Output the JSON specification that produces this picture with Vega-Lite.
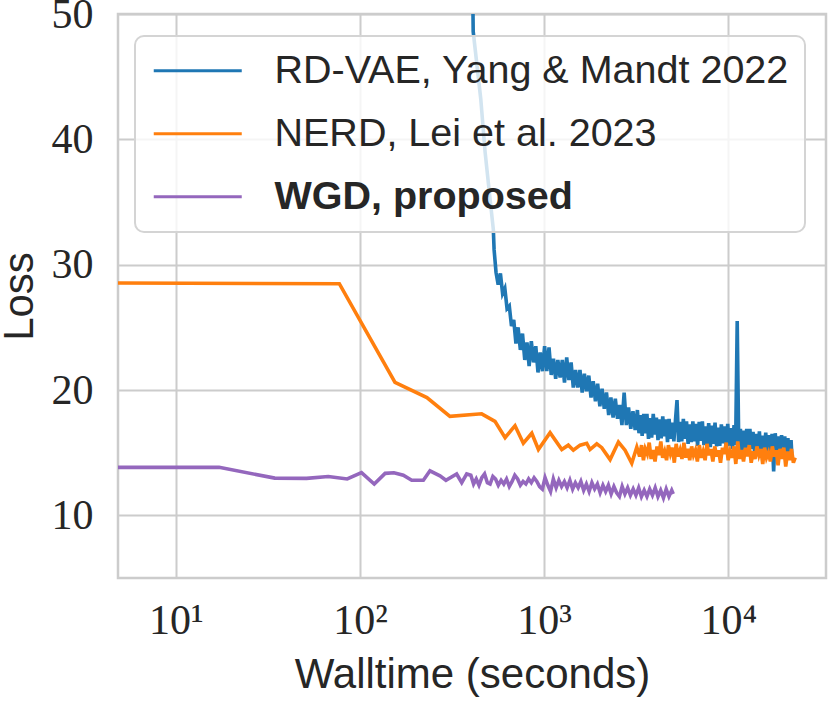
{
  "$schema": "https://vega.github.io/schema/vega-lite/v6.json",
  "width": 708,
  "height": 564,
  "autosize": "none",
  "padding": {"left": 118, "top": 14, "right": 4, "bottom": 123},
  "background": "white",
  "datasets": {
    "rdvae": [
      {"time": 400, "loss": 56}, {"time": 411, "loss": 50}, {"time": 412, "loss": 48.6}, {"time": 453, "loss": 43.2},
      {"time": 478, "loss": 39.0}, {"time": 509, "loss": 35.2}, {"time": 530, "loss": 32.8}, {"time": 535, "loss": 31.2},
      {"time": 548, "loss": 29.4}, {"time": 563, "loss": 28.4}, {"time": 579, "loss": 29.3}, {"time": 595, "loss": 27.7},
      {"time": 612, "loss": 28.1}, {"time": 629, "loss": 26.5}, {"time": 647, "loss": 26.7}, {"time": 665, "loss": 25.1},
      {"time": 684, "loss": 25.6}, {"time": 703, "loss": 23.7}, {"time": 722, "loss": 25.0}, {"time": 743, "loss": 23.2},
      {"time": 763, "loss": 24.5}, {"time": 785, "loss": 22.4}, {"time": 807, "loss": 23.8}, {"time": 829, "loss": 21.9},
      {"time": 852, "loss": 23.9}, {"time": 876, "loss": 22.2}, {"time": 901, "loss": 23.5}, {"time": 926, "loss": 21.4},
      {"time": 952, "loss": 23.0}, {"time": 979, "loss": 21.5}, {"time": 1006, "loss": 23.5}, {"time": 1034, "loss": 21.5},
      {"time": 1063, "loss": 23.4}, {"time": 1093, "loss": 21.2}, {"time": 1124, "loss": 22.5}, {"time": 1155, "loss": 20.9},
      {"time": 1187, "loss": 22.4}, {"time": 1221, "loss": 21.0}, {"time": 1255, "loss": 22.4}, {"time": 1290, "loss": 20.6},
      {"time": 1326, "loss": 22.6}, {"time": 1363, "loss": 20.8}, {"time": 1401, "loss": 22.2}, {"time": 1440, "loss": 20.2},
      {"time": 1481, "loss": 21.6}, {"time": 1522, "loss": 20.2}, {"time": 1565, "loss": 21.6}, {"time": 1609, "loss": 19.8},
      {"time": 1654, "loss": 21.3}, {"time": 1700, "loss": 19.9}, {"time": 1748, "loss": 21.15}, {"time": 1797, "loss": 19.4},
      {"time": 1847, "loss": 20.7}, {"time": 1899, "loss": 19.1}, {"time": 1952, "loss": 20.5}, {"time": 2007, "loss": 18.7},
      {"time": 2063, "loss": 20.1}, {"time": 2121, "loss": 18.5}, {"time": 2180, "loss": 19.8}, {"time": 2241, "loss": 18.0},
      {"time": 2304, "loss": 19.4}, {"time": 2368, "loss": 17.8}, {"time": 2435, "loss": 19.3}, {"time": 2503, "loss": 17.7},
      {"time": 2573, "loss": 18.8}, {"time": 2645, "loss": 17.2}, {"time": 2719, "loss": 19.8}, {"time": 2795, "loss": 17.2},
      {"time": 2873, "loss": 18.6}, {"time": 2954, "loss": 16.9}, {"time": 3036, "loss": 18.3}, {"time": 3121, "loss": 16.8},
      {"time": 3209, "loss": 18.4}, {"time": 3273, "loss": 16.55}, {"time": 3339, "loss": 18.0}, {"time": 3405, "loss": 16.35},
      {"time": 3474, "loss": 18.1}, {"time": 3543, "loss": 16.55}, {"time": 3614, "loss": 18.1}, {"time": 3686, "loss": 16.1},
      {"time": 3760, "loss": 17.75}, {"time": 3835, "loss": 16.2}, {"time": 3912, "loss": 18.1}, {"time": 3990, "loss": 16.45},
      {"time": 4070, "loss": 17.8}, {"time": 4151, "loss": 16.0}, {"time": 4234, "loss": 17.65}, {"time": 4319, "loss": 16.15},
      {"time": 4405, "loss": 17.9}, {"time": 4494, "loss": 16.3}, {"time": 4584, "loss": 17.65}, {"time": 4675, "loss": 15.85},
      {"time": 4769, "loss": 17.7}, {"time": 4864, "loss": 16.1}, {"time": 4961, "loss": 17.4}, {"time": 5061, "loss": 15.9},
      {"time": 5162, "loss": 17.55}, {"time": 5265, "loss": 19.2}, {"time": 5370, "loss": 15.85}, {"time": 5478, "loss": 17.45},
      {"time": 5587, "loss": 15.9}, {"time": 5699, "loss": 17.7}, {"time": 5813, "loss": 16.1}, {"time": 5929, "loss": 17.5},
      {"time": 6048, "loss": 15.7}, {"time": 6169, "loss": 17.25}, {"time": 6292, "loss": 15.85}, {"time": 6418, "loss": 17.5},
      {"time": 6546, "loss": 15.9}, {"time": 6677, "loss": 17.3}, {"time": 6811, "loss": 15.55}, {"time": 6947, "loss": 17.45},
      {"time": 7086, "loss": 15.95}, {"time": 7228, "loss": 17.5}, {"time": 7372, "loss": 15.6}, {"time": 7520, "loss": 17.1},
      {"time": 7670, "loss": 15.7}, {"time": 7823, "loss": 17.35}, {"time": 7980, "loss": 15.45}, {"time": 8139, "loss": 17.15},
      {"time": 8302, "loss": 15.7}, {"time": 8468, "loss": 17.4}, {"time": 8637, "loss": 15.5}, {"time": 8810, "loss": 17.0},
      {"time": 8986, "loss": 15.55}, {"time": 9166, "loss": 17.25}, {"time": 9350, "loss": 15.75}, {"time": 9537, "loss": 17.1},
      {"time": 9727, "loss": 15.3}, {"time": 9922, "loss": 17.3}, {"time": 10120, "loss": 15.55}, {"time": 10323, "loss": 16.95},
      {"time": 10529, "loss": 15.3}, {"time": 10740, "loss": 17.2}, {"time": 10954, "loss": 15.6}, {"time": 11173, "loss": 25.5},
      {"time": 11397, "loss": 15.35}, {"time": 11625, "loss": 16.9}, {"time": 11857, "loss": 15.1}, {"time": 12094, "loss": 16.75},
      {"time": 12336, "loss": 15.3}, {"time": 12583, "loss": 16.9}, {"time": 12835, "loss": 15.15}, {"time": 13091, "loss": 16.9},
      {"time": 13353, "loss": 15.3}, {"time": 13620, "loss": 16.65}, {"time": 13893, "loss": 14.95}, {"time": 14171, "loss": 16.5},
      {"time": 14454, "loss": 15.0}, {"time": 14743, "loss": 16.7}, {"time": 15038, "loss": 14.75}, {"time": 15339, "loss": 16.35},
      {"time": 15646, "loss": 15.0}, {"time": 15959, "loss": 16.6}, {"time": 16278, "loss": 14.8}, {"time": 16603, "loss": 16.4},
      {"time": 16936, "loss": 14.9}, {"time": 17274, "loss": 16.5}, {"time": 17620, "loss": 13.5}, {"time": 17972, "loss": 16.55},
      {"time": 18332, "loss": 14.85}, {"time": 18698, "loss": 16.3}, {"time": 19072, "loss": 14.7}, {"time": 19454, "loss": 16.4},
      {"time": 19843, "loss": 14.85}, {"time": 20240, "loss": 16.3}, {"time": 20645, "loss": 14.6}, {"time": 21057, "loss": 16.15},
      {"time": 21479, "loss": 14.8}, {"time": 21908, "loss": 16.0}, {"time": 22100, "loss": 14.9}
    ],
    "nerd": [
      {"time": 4.86, "loss": 28.54}, {"time": 77.3, "loss": 28.48}, {"time": 155, "loss": 20.6}, {"time": 231, "loss": 19.4},
      {"time": 308, "loss": 17.9}, {"time": 458, "loss": 18.1}, {"time": 541, "loss": 17.5}, {"time": 614, "loss": 16.2},
      {"time": 695, "loss": 17.15}, {"time": 771, "loss": 15.75}, {"time": 857, "loss": 16.55}, {"time": 931, "loss": 15.25},
      {"time": 1077, "loss": 16.6}, {"time": 1247, "loss": 15.25}, {"time": 1353, "loss": 15.6}, {"time": 1441, "loss": 15.2},
      {"time": 1568, "loss": 15.6}, {"time": 1703, "loss": 15.75}, {"time": 1775, "loss": 15.25}, {"time": 1931, "loss": 15.7},
      {"time": 2056, "loss": 15.4}, {"time": 2281, "loss": 14.45}, {"time": 2531, "loss": 15.85}, {"time": 2750, "loss": 15.2},
      {"time": 2990, "loss": 14.15}, {"time": 3185, "loss": 15.45}, {"time": 3300, "loss": 14.7}, {"time": 3380, "loss": 15.6},
      {"time": 3460, "loss": 14.4}, {"time": 3540, "loss": 15.3}, {"time": 3630, "loss": 14.9}, {"time": 3720, "loss": 15.8},
      {"time": 3810, "loss": 14.5}, {"time": 3900, "loss": 15.2}, {"time": 4000, "loss": 14.3}, {"time": 4100, "loss": 15.5},
      {"time": 4200, "loss": 14.8}, {"time": 4300, "loss": 15.9}, {"time": 4400, "loss": 14.6}, {"time": 4510, "loss": 15.1},
      {"time": 4620, "loss": 14.4}, {"time": 4730, "loss": 15.6}, {"time": 4850, "loss": 14.9}, {"time": 4970, "loss": 15.4},
      {"time": 5090, "loss": 14.2}, {"time": 5210, "loss": 15.7}, {"time": 5340, "loss": 14.7}, {"time": 5470, "loss": 15.2},
      {"time": 5600, "loss": 14.5}, {"time": 5740, "loss": 15.8}, {"time": 5880, "loss": 14.6}, {"time": 6020, "loss": 15.3},
      {"time": 6170, "loss": 14.4}, {"time": 6320, "loss": 15.5}, {"time": 6470, "loss": 14.8}, {"time": 6630, "loss": 15.2},
      {"time": 6790, "loss": 14.3}, {"time": 6960, "loss": 15.6}, {"time": 7130, "loss": 14.6}, {"time": 7300, "loss": 15.1},
      {"time": 7480, "loss": 14.4}, {"time": 7660, "loss": 15.7}, {"time": 7850, "loss": 14.8}, {"time": 8040, "loss": 15.3},
      {"time": 8240, "loss": 14.3}, {"time": 8440, "loss": 15.5}, {"time": 8640, "loss": 14.7}, {"time": 8850, "loss": 15.2},
      {"time": 9070, "loss": 14.2}, {"time": 9290, "loss": 15.4}, {"time": 9510, "loss": 14.9}, {"time": 9740, "loss": 15.8},
      {"time": 9980, "loss": 14.4}, {"time": 10220, "loss": 15.1}, {"time": 10470, "loss": 14.6}, {"time": 10720, "loss": 15.5},
      {"time": 10980, "loss": 14.1}, {"time": 11250, "loss": 15.9}, {"time": 11520, "loss": 14.5}, {"time": 11800, "loss": 15.2},
      {"time": 12090, "loss": 14.3}, {"time": 12380, "loss": 15.4}, {"time": 12680, "loss": 14.7}, {"time": 12990, "loss": 15.6},
      {"time": 13310, "loss": 14.2}, {"time": 13630, "loss": 15.1}, {"time": 13960, "loss": 14.5}, {"time": 14300, "loss": 15.5},
      {"time": 14650, "loss": 14.8}, {"time": 15000, "loss": 15.3}, {"time": 15370, "loss": 14.1}, {"time": 15740, "loss": 15.4},
      {"time": 16120, "loss": 14.6}, {"time": 16510, "loss": 15.0}, {"time": 16910, "loss": 14.3}, {"time": 17330, "loss": 15.5},
      {"time": 17750, "loss": 14.7}, {"time": 18180, "loss": 15.2}, {"time": 18620, "loss": 14.0}, {"time": 19070, "loss": 15.3},
      {"time": 19530, "loss": 14.5}, {"time": 20010, "loss": 15.4}, {"time": 20490, "loss": 13.9}, {"time": 20990, "loss": 15.1},
      {"time": 21500, "loss": 14.4}, {"time": 22020, "loss": 15.3}, {"time": 22550, "loss": 14.2}, {"time": 23070, "loss": 14.6}
    ],
    "wgd": [
      {"time": 4.86, "loss": 13.83}, {"time": 17.2, "loss": 13.83}, {"time": 34.5, "loss": 12.97}, {"time": 51.3, "loss": 12.95},
      {"time": 67.3, "loss": 13.1}, {"time": 85.3, "loss": 12.9}, {"time": 102, "loss": 13.4}, {"time": 119.6, "loss": 12.5},
      {"time": 137, "loss": 13.35}, {"time": 153, "loss": 13.4}, {"time": 172, "loss": 13.2}, {"time": 191, "loss": 12.8},
      {"time": 221, "loss": 12.8}, {"time": 240, "loss": 13.55}, {"time": 272, "loss": 13.15}, {"time": 293, "loss": 12.8},
      {"time": 335, "loss": 13.3}, {"time": 357, "loss": 12.6}, {"time": 380, "loss": 13.3}, {"time": 400, "loss": 13.2},
      {"time": 414, "loss": 12.5}, {"time": 428, "loss": 12.9}, {"time": 443, "loss": 12.4}, {"time": 459, "loss": 13.0},
      {"time": 475, "loss": 13.3}, {"time": 492, "loss": 12.6}, {"time": 509, "loss": 12.5}, {"time": 527, "loss": 13.1},
      {"time": 545, "loss": 12.9}, {"time": 564, "loss": 12.4}, {"time": 584, "loss": 12.8}, {"time": 604, "loss": 12.5},
      {"time": 625, "loss": 12.9}, {"time": 647, "loss": 12.3}, {"time": 670, "loss": 12.7}, {"time": 693, "loss": 13.2},
      {"time": 718, "loss": 12.9}, {"time": 743, "loss": 12.4}, {"time": 769, "loss": 12.7}, {"time": 796, "loss": 12.5},
      {"time": 824, "loss": 12.9}, {"time": 852, "loss": 12.6}, {"time": 882, "loss": 13.0}, {"time": 913, "loss": 12.7},
      {"time": 945, "loss": 12.3}, {"time": 978, "loss": 12.1}, {"time": 1012, "loss": 13.0}, {"time": 1048, "loss": 12.4},
      {"time": 1084, "loss": 11.9}, {"time": 1122, "loss": 12.9}, {"time": 1162, "loss": 12.2}, {"time": 1202, "loss": 12.8},
      {"time": 1244, "loss": 12.3}, {"time": 1288, "loss": 12.7}, {"time": 1333, "loss": 12.2}, {"time": 1380, "loss": 12.8},
      {"time": 1428, "loss": 12.1}, {"time": 1478, "loss": 12.6}, {"time": 1530, "loss": 12.2}, {"time": 1583, "loss": 12.7},
      {"time": 1639, "loss": 12.0}, {"time": 1696, "loss": 12.5}, {"time": 1755, "loss": 11.9}, {"time": 1817, "loss": 12.6},
      {"time": 1880, "loss": 12.1}, {"time": 1946, "loss": 12.5}, {"time": 2014, "loss": 11.8}, {"time": 2085, "loss": 12.4},
      {"time": 2158, "loss": 11.9}, {"time": 2233, "loss": 12.4}, {"time": 2311, "loss": 11.7}, {"time": 2392, "loss": 12.3},
      {"time": 2476, "loss": 11.8}, {"time": 2563, "loss": 11.5}, {"time": 2652, "loss": 12.3}, {"time": 2745, "loss": 11.7},
      {"time": 2841, "loss": 12.2}, {"time": 2941, "loss": 11.6}, {"time": 3044, "loss": 12.1}, {"time": 3150, "loss": 11.6},
      {"time": 3260, "loss": 12.2}, {"time": 3374, "loss": 11.5}, {"time": 3493, "loss": 12.0}, {"time": 3615, "loss": 11.5},
      {"time": 3741, "loss": 12.1}, {"time": 3872, "loss": 11.6}, {"time": 4008, "loss": 12.2}, {"time": 4148, "loss": 11.5},
      {"time": 4293, "loss": 12.0}, {"time": 4444, "loss": 11.4}, {"time": 4599, "loss": 12.1}, {"time": 4760, "loss": 11.5},
      {"time": 4927, "loss": 12.0}, {"time": 5023, "loss": 11.7}
    ]
  },
  "encoding": {
    "x": {
      "field": "time",
      "type": "quantitative",
      "scale": {"type": "log", "domain": [4.86, 33900], "nice": false},
      "axis": {
        "title": "Walltime (seconds)",
        "values": [10, 100, 1000, 10000],
        "labelExpr": "datum.value == 10 ? '10¹' : datum.value == 100 ? '10²' : datum.value == 1000 ? '10³' : '10⁴'",
        "labelFont": "Liberation Serif",
        "labelFontSize": 42,
        "labelBaseline": "alphabetic",
        "labelPadding": 55,
        "titleY": 109,
        "titleBaseline": "alphabetic"
      }
    },
    "y": {
      "field": "loss",
      "type": "quantitative",
      "scale": {"domain": [5, 50], "nice": false, "zero": false},
      "axis": {
        "title": "Loss",
        "values": [10, 20, 30, 40, 50],
        "labelFont": "Liberation Serif",
        "labelFontSize": 42,
        "labelPadding": 25,
        "titleX": -86,
        "titleY": 282,
        "titleBaseline": "alphabetic"
      }
    }
  },
  "layer": [
    {
      "data": {"name": "rdvae"},
      "mark": {"type": "line", "strokeWidth": 3.6, "clip": true},
      "encoding": {
        "color": {
          "datum": "RD-VAE, Yang & Mandt 2022",
          "type": "nominal",
          "scale": {
            "domain": ["RD-VAE, Yang & Mandt 2022", "NERD, Lei et al. 2023", "WGD, proposed"],
            "range": ["#1f77b4", "#ff7f0e", "#9467bd"]
          },
          "legend": {
            "title": null,
            "orient": "none",
            "legendX": 17,
            "legendY": 22,
            "padding": 15,
            "symbolType": "M-1.6,0H7.2",
            "symbolSize": 400,
            "symbolStrokeWidth": 3,
            "labelFont": "Liberation Sans",
            "labelFontSize": 39.5,
            "labelColor": "#262626",
            "labelOffset": 85,
            "labelLimit": 800,
            "rowPadding": 22,
            "fillColor": "rgba(255,255,255,0.8)",
            "strokeColor": "#d4d4d4",
            "cornerRadius": 9,
            "encode": {
              "legend": {"update": {"strokeWidth": {"value": 2}}},
              "labels": {"update": {"fontWeight": {"signal": "datum.label === 'WGD, proposed' ? 'bold' : 'normal'"}}}
            }
          }
        }
      }
    },
    {
      "data": {"name": "nerd"},
      "mark": {"type": "line", "strokeWidth": 3.6, "clip": true},
      "encoding": {"color": {"datum": "NERD, Lei et al. 2023", "type": "nominal"}}
    },
    {
      "data": {"name": "wgd"},
      "mark": {"type": "line", "strokeWidth": 3.6, "clip": true},
      "encoding": {"color": {"datum": "WGD, proposed", "type": "nominal"}}
    }
  ],
  "config": {
    "view": {"stroke": "#cccccc", "strokeWidth": 2.5},
    "axis": {
      "domain": false,
      "ticks": false,
      "grid": true,
      "gridColor": "#cccccc",
      "gridWidth": 2,
      "labelColor": "#262626",
      "titleColor": "#262626",
      "titleFont": "Liberation Sans",
      "titleFontSize": 42,
      "titleFontWeight": "normal"
    }
  }
}
